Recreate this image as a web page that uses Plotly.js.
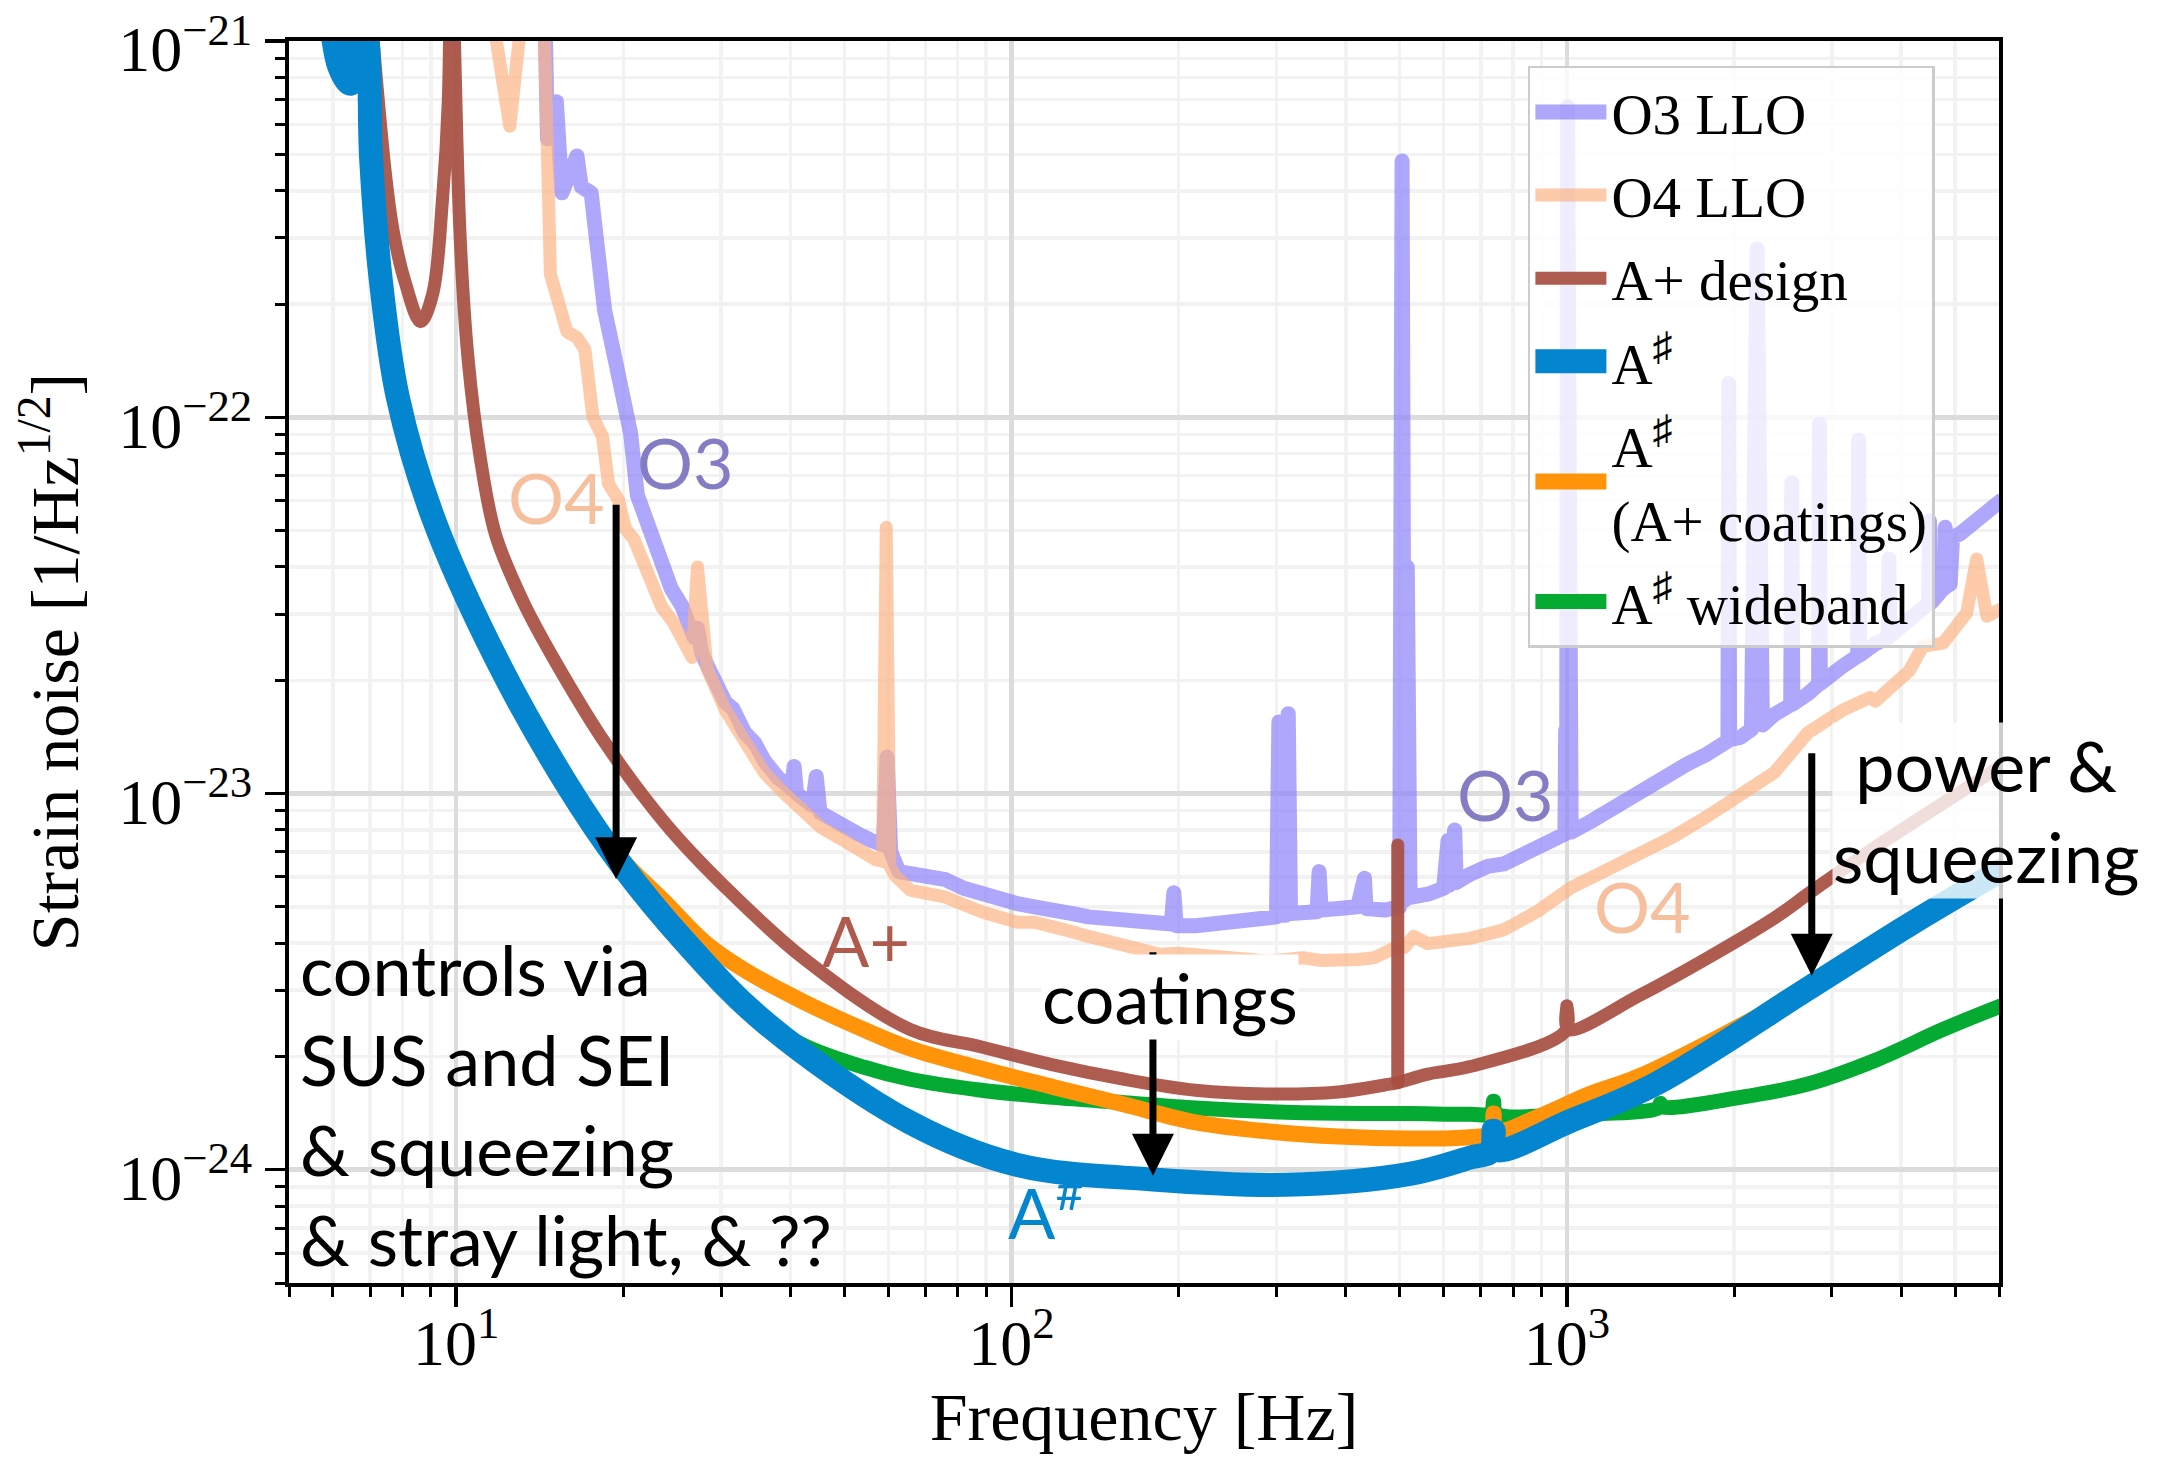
<!DOCTYPE html>
<html>
<head>
<meta charset="utf-8">
<script src="https://cdn.plot.ly/plotly-3.0.1.min.js"></script>
<style>
html,body{margin:0;padding:0;background:#fff;}
#chart{width:2157px;height:1457px;}
.scatterlayer .js-line{stroke-linejoin:round;stroke-linecap:round;}
</style>
</head>
<body>
<div id="chart"></div>
<script>
// ---------------- data (frequency [Hz], strain ASD [1/sqrt(Hz)]) ----------------
const o3LLO = [[14.45,1.2e-21],[14.6,5.5e-22],[15.15,6.9e-22],[15.5,3.95e-22],[16.5,4.95e-22],[16.8,4.1e-22],[17.5,3.95e-22],[17.9,2.85e-22],[18.5,1.93e-22],[19.3,1.44e-22],[20.1,1.13e-22],[20.6,9.1e-23],[21.2,6.2e-23],[22.2,5.05e-23],[22.9,4.7e-23],[23.7,3.9e-23],[24.4,3.5e-23],[25.5,3.15e-23],[26.3,2.8e-23],[26.8,2.6e-23],[27.2,2.75e-23],[27.7,2.35e-23],[28.5,2.15e-23],[30.5,1.75e-23],[31.5,1.68e-23],[33.1,1.45e-23],[34.5,1.36e-23],[35.9,1.22e-23],[38.0,1.1e-23],[40.2,1.03e-23],[40.6,1.18e-23],[41.0,1.0e-23],[43.8,9.3e-24],[44.5,1.11e-23],[45.2,8.9e-24],[47.5,8.5e-24],[49.9,8.1e-24],[53.0,7.8e-24],[55.9,7.5e-24],[58.8,7.3e-24],[59.7,1.25e-23],[60.6,7.0e-24],[62.7,6.2e-24],[65.7,6.1e-24],[70.5,6.0e-24],[76.1,5.9e-24],[82,5.6e-24],[88.3,5.4e-24],[95,5.25e-24],[102.4,5.1e-24],[110,5.0e-24],[118.7,4.95e-24],[128,4.8e-24],[137.6,4.7e-24],[148,4.65e-24],[159.6,4.6e-24],[172,4.55e-24],[185,4.55e-24],[194,4.5e-24],[196,5.45e-24],[198,4.45e-24],[214.6,4.45e-24],[230,4.5e-24],[248.9,4.6e-24],[270,4.65e-24],[288.5,4.7e-24],[300,4.7e-24],[303,1.55e-23],[306,4.75e-24],[312,4.75e-24],[315,1.63e-23],[318,4.8e-24],[334.6,4.8e-24],[355,4.85e-24],[358,6.2e-24],[361,4.9e-24],[388,4.95e-24],[420,5.0e-24],[432,5.95e-24],[435,4.95e-24],[470,4.9e-24],[500,5.0e-24],[505,4.8e-22],[510,5.2e-24],[516,4.0e-23],[522,5.3e-24],[562,5.4e-24],[600,5.6e-24],[611,7.5e-24],[614,5.7e-24],[628,8.0e-24],[632,5.8e-24],[669,6.1e-24],[720,6.4e-24],[769.5,6.5e-24],[820,6.8e-24],[885,7.2e-24],[950,7.6e-24],[992,7.8e-24],[995,1.47e-23],[999,7.9e-24],[1003,6.7e-22],[1008,8.0e-24],[1018,7.9e-24],[1100,8.4e-24],[1172,8.9e-24],[1260,9.5e-24],[1348,1.0e-23],[1450,1.07e-23],[1550,1.12e-23],[1650,1.2e-23],[1784,1.27e-23],[1900,1.35e-23],[1950,1.38e-23],[1957,1.23e-22],[1964,1.39e-23],[2053,1.41e-23],[2150,1.48e-23],[2200,2.8e-22],[2250,1.52e-23],[2361,1.62e-23],[2530,1.72e-23],[2541,6.7e-23],[2552,1.73e-23],[2716,1.84e-23],[2840,1.95e-23],[2850,9.6e-23],[2860,1.96e-23],[3125,2.17e-23],[3340,2.32e-23],[3353,8.7e-23],[3366,2.33e-23],[3595,2.5e-23],[3790,2.6e-23],[3802,4.2e-23],[3815,2.62e-23],[4136,2.9e-23],[4480,3.2e-23],[4498,5.3e-23],[4516,3.2e-23],[4758,3.5e-23],[4790,3.52e-23],[4800,5.1e-23],[4810,3.54e-23],[4900,3.6e-23],[4950,4.8e-23],[5104,4.9e-23],[5500,5.4e-23],[6026,5.98e-23]];

const o4LLO = [[11.4,1.4e-21],[12.49,5.94e-22],[13.3,1.4e-21],[14.3,1.6e-21],[14.58,5.46e-22],[14.78,2.4e-22],[15.83,1.69e-22],[16.5,1.63e-22],[17.05,1.515e-22],[17.63,1.0e-22],[18.34,8.9e-23],[18.81,6.65e-23],[19.59,6.04e-23],[20.2,5.04e-23],[20.9,4.74e-23],[22.16,3.86e-23],[23.43,3.14e-23],[24.6,2.85e-23],[25.88,2.47e-23],[26.6,2.3e-23],[27.2,4.0e-23],[28.3,2.15e-23],[30.5,1.67e-23],[33.1,1.35e-23],[35.9,1.135e-23],[39.0,1.0e-23],[42.3,8.9e-24],[45.5,8.1e-24],[49.9,7.5e-24],[53.5,7.0e-24],[56.9,6.67e-24],[58.6,6.6e-24],[59.5,5.1e-23],[60.4,6.4e-24],[61.7,6.05e-24],[65.7,5.54e-24],[76.1,5.3e-24],[88.3,4.85e-24],[102.4,4.55e-24],[110,4.55e-24],[118.7,4.45e-24],[128,4.3e-24],[137.6,4.17e-24],[159.6,3.95e-24],[172,3.85e-24],[185,3.74e-24],[200,3.76e-24],[214.6,3.74e-24],[248.9,3.69e-24],[270,3.62e-24],[288.5,3.58e-24],[310,3.65e-24],[334.6,3.66e-24],[360,3.6e-24],[388,3.58e-24],[420,3.62e-24],[449.9,3.66e-24],[491.4,3.9e-24],[510,3.9e-24],[529.6,4.17e-24],[562,3.99e-24],[600,4.02e-24],[669,4.12e-24],[769.5,4.34e-24],[885,4.86e-24],[1018,5.62e-24],[1172,6.23e-24],[1348,6.91e-24],[1550,7.66e-24],[1784,8.67e-24],[2053,9.82e-24],[2361,1.135e-23],[2716,1.45e-23],[3125,1.66e-23],[3519,1.8e-23],[3595,1.76e-23],[4136,2.12e-23],[4375,2.46e-23],[4758,2.51e-23],[5248,3.02e-23],[5470,4.2e-23],[5706,2.96e-23],[6026,3.08e-23]];

const aPlusDesign = [[6.9,1.6e-21],[7.45,4.5e-22],[7.7,3.13e-22],[8.09,2.29e-22],[8.63,1.795e-22],[9.07,2.125e-22],[9.45,3.8e-22],[9.68,6.96e-22],[9.8,2.5e-21],[9.93,1.0e-21],[10.17,2.98e-22],[10.5,1.443e-22],[11.04,7.88e-23],[11.78,4.86e-23],[13.22,3.22e-23],[15.2,2.2e-23],[18.65,1.346e-23],[23.84,8.3e-24],[30.5,5.64e-24],[42.3,3.64e-24],[65.7,2.36e-24],[88.3,2.12e-24],[118.7,1.9e-24],[159.6,1.74e-24],[214.6,1.627e-24],[288.5,1.59e-24],[388,1.61e-24],[470,1.68e-24],[496,1.705e-24],[562,1.796e-24],[669,1.88e-24],[995,2.34e-24],[1000,2.73e-24],[1005,2.36e-24],[1348,2.9e-24],[1784,3.64e-24],[2361,4.66e-24],[2762,5.5e-24],[3595,7.2e-24],[4758,9.42e-24],[6026,1.18e-23]];
// narrow 496 Hz line of the A+ design curve (base, top)
const aPlusLine496 = [[496,1.705e-24],[496,7.3e-24]];

const aSharp = [[5.85,1.5e-21],[6.15,8.6e-22],[6.45,7.7e-22],[6.7,1.2e-21],[6.9,1.05e-21],[7.03,4.84e-22],[7.31,2.34e-22],[7.85,1.13e-22],[9.06,5.48e-23],[11.92,2.22e-23],[15.83,1.057e-23],[19.75,6.52e-24],[25.88,4.02e-24],[35.9,2.47e-24],[65.6,1.336e-24],[102.3,1.03e-24],[179.7,9.42e-25],[310.8,9.12e-25],[521,9.75e-25],[668,1.076e-24],[730,1.12e-24],[738,1.27e-24],[746,1.13e-24],[1018,1.35e-24],[1445,1.69e-24],[2718,3.03e-24],[4137,4.48e-24],[6026,6.22e-24]];

const aSharpAPlusCoatings = [[6.95,1.0e-21],[7.03,4.84e-22],[7.31,2.34e-22],[7.85,1.13e-22],[9.06,5.48e-23],[11.92,2.22e-23],[15.83,1.06e-23],[19.6,6.84e-24],[23.84,5.12e-24],[28.1,4.01e-24],[33.1,3.39e-24],[42.3,2.79e-24],[54.1,2.36e-24],[65.7,2.1e-24],[88.3,1.855e-24],[118.7,1.66e-24],[159.6,1.49e-24],[214.6,1.336e-24],[288.5,1.265e-24],[388,1.225e-24],[521,1.21e-24],[669,1.22e-24],[730,1.25e-24],[738,1.41e-24],[746,1.27e-24],[885,1.38e-24],[1100,1.59e-24],[1348,1.77e-24],[2718,3.03e-24],[4137,4.48e-24],[6026,6.22e-24]];

const aSharpWideband = [[5.8,1.5e-21],[6.1,8.6e-22],[6.4,7.7e-22],[6.65,1.2e-21],[6.85,1.05e-21],[6.98,4.84e-22],[7.25,2.34e-22],[7.78,1.13e-22],[8.95,5.48e-23],[11.75,2.22e-23],[15.55,1.057e-23],[19.35,6.52e-24],[25.3,4.02e-24],[34.2,2.6e-24],[42.3,2.14e-24],[54.1,1.875e-24],[65.7,1.74e-24],[88.3,1.627e-24],[118.7,1.557e-24],[159.6,1.507e-24],[214.6,1.459e-24],[288.5,1.428e-24],[388,1.413e-24],[521,1.41e-24],[669,1.405e-24],[730,1.41e-24],[738,1.52e-24],[746,1.41e-24],[1018,1.405e-24],[1460,1.46e-24],[1474,1.5e-24],[1490,1.47e-24],[2053,1.557e-24],[2716,1.69e-24],[3595,1.955e-24],[4758,2.36e-24],[6026,2.72e-24]];

const seriesNames = ['O3 LLO', 'O4 LLO', 'A+ design', 'A<sup>♯</sup>', 'A<sup>♯</sup><br>(A+ coatings)', 'A<sup>♯</sup> wideband'];

const xTickVals = [10, 100, 1000];
const xTickText = ['10<sup>1</sup>', '10<sup>2</sup>', '10<sup>3</sup>'];
const yTickVals = [1e-24, 1e-23, 1e-22, 1e-21];
const yTickText = ['10<sup>−24</sup>', '10<sup>−23</sup>', '10<sup>−22</sup>', '10<sup>−21</sup>'];
const xMinorVals = [5,6,7,8,9,20,30,40,50,60,70,80,90,200,300,400,500,600,700,800,900,2000,3000,4000,5000,6000];
const yMinorVals = [5e-25,6e-25,7e-25,8e-25,9e-25,2e-24,3e-24,4e-24,5e-24,6e-24,7e-24,8e-24,9e-24,2e-23,3e-23,4e-23,5e-23,6e-23,7e-23,8e-23,9e-23,2e-22,3e-22,4e-22,5e-22,6e-22,7e-22,8e-22,9e-22];

// ---------------- traces ----------------
const joinSegments = (...segs) => {
  const out = [];
  segs.forEach((s, i) => { if (i > 0) out.push([null, null]); s.forEach(p => out.push(p)); });
  return out;
};
function tr(data, name, color, width, rank, shape) {
  return {
    x: data.map(p => p[0]), y: data.map(p => p[1]), type: 'scatter', mode: 'lines', name: name,
    line: {color: color, width: width, shape: shape || 'linear', smoothing: 1},
    connectgaps: false,
    legendgroup: 'g' + rank, legendrank: rank, hoverinfo: 'skip'
  };
}
const traces = [
  tr(o3LLO, seriesNames[0], 'rgba(140,130,250,0.7)', 15, 1),
  tr(o4LLO, seriesNames[1], 'rgba(253,178,130,0.68)', 13, 2),
  tr(joinSegments(aPlusDesign, aPlusLine496), seriesNames[2], 'rgba(168,78,65,0.92)', 13, 3, 'spline'),
  tr(aSharpWideband, seriesNames[5], 'rgb(4,170,50)', 15, 6, 'spline'),
  tr(aSharpAPlusCoatings, seriesNames[4], 'rgb(255,148,10)', 16, 5, 'spline'),
  tr(aSharp, seriesNames[3], 'rgb(4,133,208)', 24, 4, 'spline')
];

const serif = 'Liberation Serif, DejaVu Serif, serif';
const sans = 'Lato, Open Sans, sans-serif';
const labelFont = (c) => ({family: sans, size: 70, color: c});
const arrow = (x, y, ay) => ({x: x, y: y, xref: 'x', yref: 'y', ax: 0, ay: ay, text: '', showarrow: true,
  arrowhead: 2, arrowwidth: 7, arrowsize: 1.2, arrowcolor: '#000'});
const label = (x, y, text, color, extra) => Object.assign({x: x, y: y, xref: 'x', yref: 'y', text: text,
  showarrow: false, font: labelFont(color)}, extra || {});

const annotations = [
  arrow(1.288, -23.228, -376),
  arrow(2.2547, -24.016, -225),
  arrow(3.441, -23.4847, -224),
  label(2.2853, -23.5405, 'coatings', '#000', {bgcolor: '#ffffff', borderpad: 0}),
  label(3.7543, -23.0462, 'power &<br>squeezing', '#000', {bgcolor: 'rgba(255,255,255,0.8)', borderpad: 0, align: 'center'}),
  label(0.7156, -23.4661, 'controls via', '#000', {xanchor: 'left'}),
  label(0.7156, -23.7053, 'SUS and SEI', '#000', {xanchor: 'left'}),
  label(0.7156, -23.9444, '& squeezing', '#000', {xanchor: 'left'}),
  label(0.7156, -24.1836, '& stray light, & ??', '#000', {xanchor: 'left'}),
  label(1.4131, -22.1188, 'O3', 'rgb(132,125,196)'),
  label(1.1809, -22.2131, 'O4', 'rgb(246,192,158)'),
  label(1.738, -23.389, 'A+', 'rgb(176,90,78)'),
  label(2.0621, -24.1012, 'A<sup>#</sup>', 'rgb(4,133,208)'),
  label(2.8902, -23.0011, 'O3', 'rgb(132,125,196)'),
  label(3.1368, -23.2987, 'O4', 'rgb(246,192,158)')
];

const axisCommon = {
  type: 'log', tickmode: 'array',
  ticks: 'outside', ticklen: 20, tickwidth: 3.5, tickcolor: '#000',
  showgrid: true, gridcolor: '#dcdcdc', gridwidth: 4.5,
  showline: true, linecolor: '#000', linewidth: 4, mirror: true,
  zeroline: false, automargin: false, ticklabeloverflow: 'allow',
  tickfont: {family: serif, size: 64, color: '#000'}
};

const layout = {
  width: 2157, height: 1457,
  margin: {l: 289, r: 158, t: 41, b: 174, pad: 0},
  paper_bgcolor: '#ffffff', plot_bgcolor: '#ffffff',
  font: {family: serif, size: 64, color: '#000'},
  showlegend: true,
  hovermode: false,
  legend: {
    x: 0.7245, y: 0.9799, xanchor: 'left', yanchor: 'top',
    bgcolor: 'rgba(255,255,255,0.8)', bordercolor: '#cccccc', borderwidth: 2.5,
    font: {family: serif, size: 57, color: '#000'},
    itemwidth: 71, tracegroupgap: 6, traceorder: 'grouped', valign: 'middle'
  },
  xaxis: Object.assign({}, axisCommon, {
    range: [Math.log10(5), Math.log10(6000)],
    tickvals: xTickVals, ticktext: xTickText,
    ticklabelstandoff: -19,
    minor: {tickmode: 'array', tickvals: xMinorVals, ticks: 'outside', ticklen: 10, tickwidth: 3, tickcolor: '#000', showgrid: true, gridcolor: '#f2f2f2', gridwidth: 3.5},
    title: {text: 'Frequency [Hz]', font: {family: serif, size: 68, color: '#000'}, standoff: 10}
  }),
  yaxis: Object.assign({}, axisCommon, {
    range: [Math.log10(5e-25), -20.9999],
    tickvals: yTickVals, ticktext: yTickText,
    ticklabelshift: 8,
    minor: {tickmode: 'array', tickvals: yMinorVals, ticks: 'outside', ticklen: 10, tickwidth: 3, tickcolor: '#000', showgrid: true, gridcolor: '#f2f2f2', gridwidth: 3.5},
    title: {text: 'Strain noise [1/Hz<sup>1/2</sup>]', font: {family: serif, size: 68, color: '#000'}, standoff: 18}
  }),
  annotations: annotations
};

Plotly.newPlot('chart', traces, layout, {displayModeBar: false, staticPlot: true}).then(gd => {
  // legend samples drawn with the same line widths as the curves
  gd.querySelectorAll('.legend .traces').forEach(el => {
    const d = el.__data__;
    if (!d || !d[0] || !d[0].trace) return;
    const w = d[0].trace.line.width;
    el.querySelectorAll('.js-line').forEach(p => { p.style.strokeWidth = w + 'px'; });
  });
});
</script>
</body>
</html>
